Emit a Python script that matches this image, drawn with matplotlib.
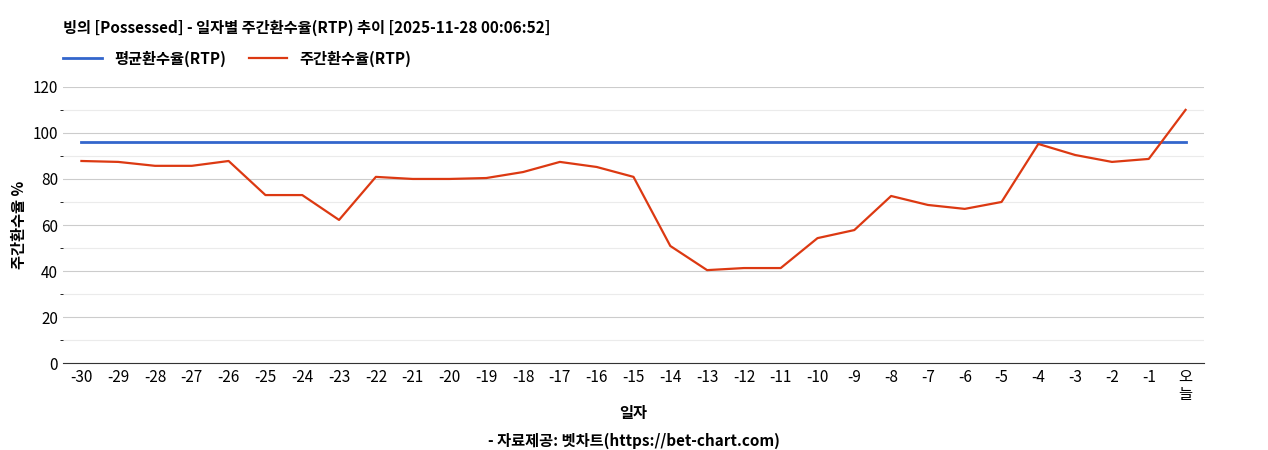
import matplotlib
matplotlib.use("Agg")
import matplotlib.pyplot as plt
from matplotlib.ticker import MultipleLocator

plt.rcParams['font.family'] = ['Noto Sans CJK KR', 'DejaVu Sans']

labels = [str(i) for i in range(-30, 0)] + ["오\n늘"]
rtp = [87.8, 87.4, 85.7, 85.7, 87.8, 73, 73, 62.2, 80.9, 80, 80, 80.4, 83, 87.4, 85.2, 80.9,
       50.9, 40.4, 41.3, 41.3, 54.3, 57.8, 72.6, 68.7, 67, 70, 95.2, 90.4, 87.4, 88.7, 110]
avg = 96.1

fig = plt.figure(figsize=(12.68, 4.5), dpi=100)
ax = fig.add_axes([0.0497, 0.193, 0.8998, 0.614])
x = list(range(len(labels)))
ax.plot(x, [avg]*len(x), color='#3366cc', lw=2, label='평균환수율(RTP)')
ax.plot(x, rtp, color='#dc3912', lw=1.6, label='주간환수율(RTP)')
ax.set_xlim(-0.5, len(x)-0.5)
ax.set_ylim(0, 120)
ax.yaxis.set_major_locator(MultipleLocator(20))
ax.yaxis.set_minor_locator(MultipleLocator(10))
ax.grid(axis='y', which='major', color='#cccccc', lw=0.8)
ax.grid(axis='y', which='minor', color='#ebebeb', lw=0.8)
ax.set_axisbelow(True)
ax.set_xticks(x)
ax.set_xticklabels(labels, fontsize=11, linespacing=1.0)
ax.tick_params(axis='y', labelsize=11, length=0)
ax.tick_params(axis='x', length=0, pad=4)
for s in ['top', 'right', 'left']:
    ax.spines[s].set_visible(False)
ax.spines['bottom'].set_color('#333333')
ax.set_ylabel('주간환수율 %', fontsize=11, fontweight='bold')
ax.set_xlabel('일자', fontsize=11, fontweight='bold', labelpad=2)
fig.text(0.0497, 0.92, '빙의 [Possessed] - 일자별 주간환수율(RTP) 추이 [2025-11-28 00:06:52]',
         fontsize=11, fontweight='bold', va='bottom')
ax.legend(loc='lower left', bbox_to_anchor=(-0.005, 1.05), ncol=2, frameon=False,
          fontsize=11, prop={'weight': 'bold', 'size': 11}, handlelength=2.5, columnspacing=1.5,
          borderaxespad=0)
fig.text(0.5, 0.01, '- 자료제공: 벳차트(https://bet-chart.com)', ha='center', fontsize=11, fontweight='bold')
fig.savefig('out.png', dpi=100)
